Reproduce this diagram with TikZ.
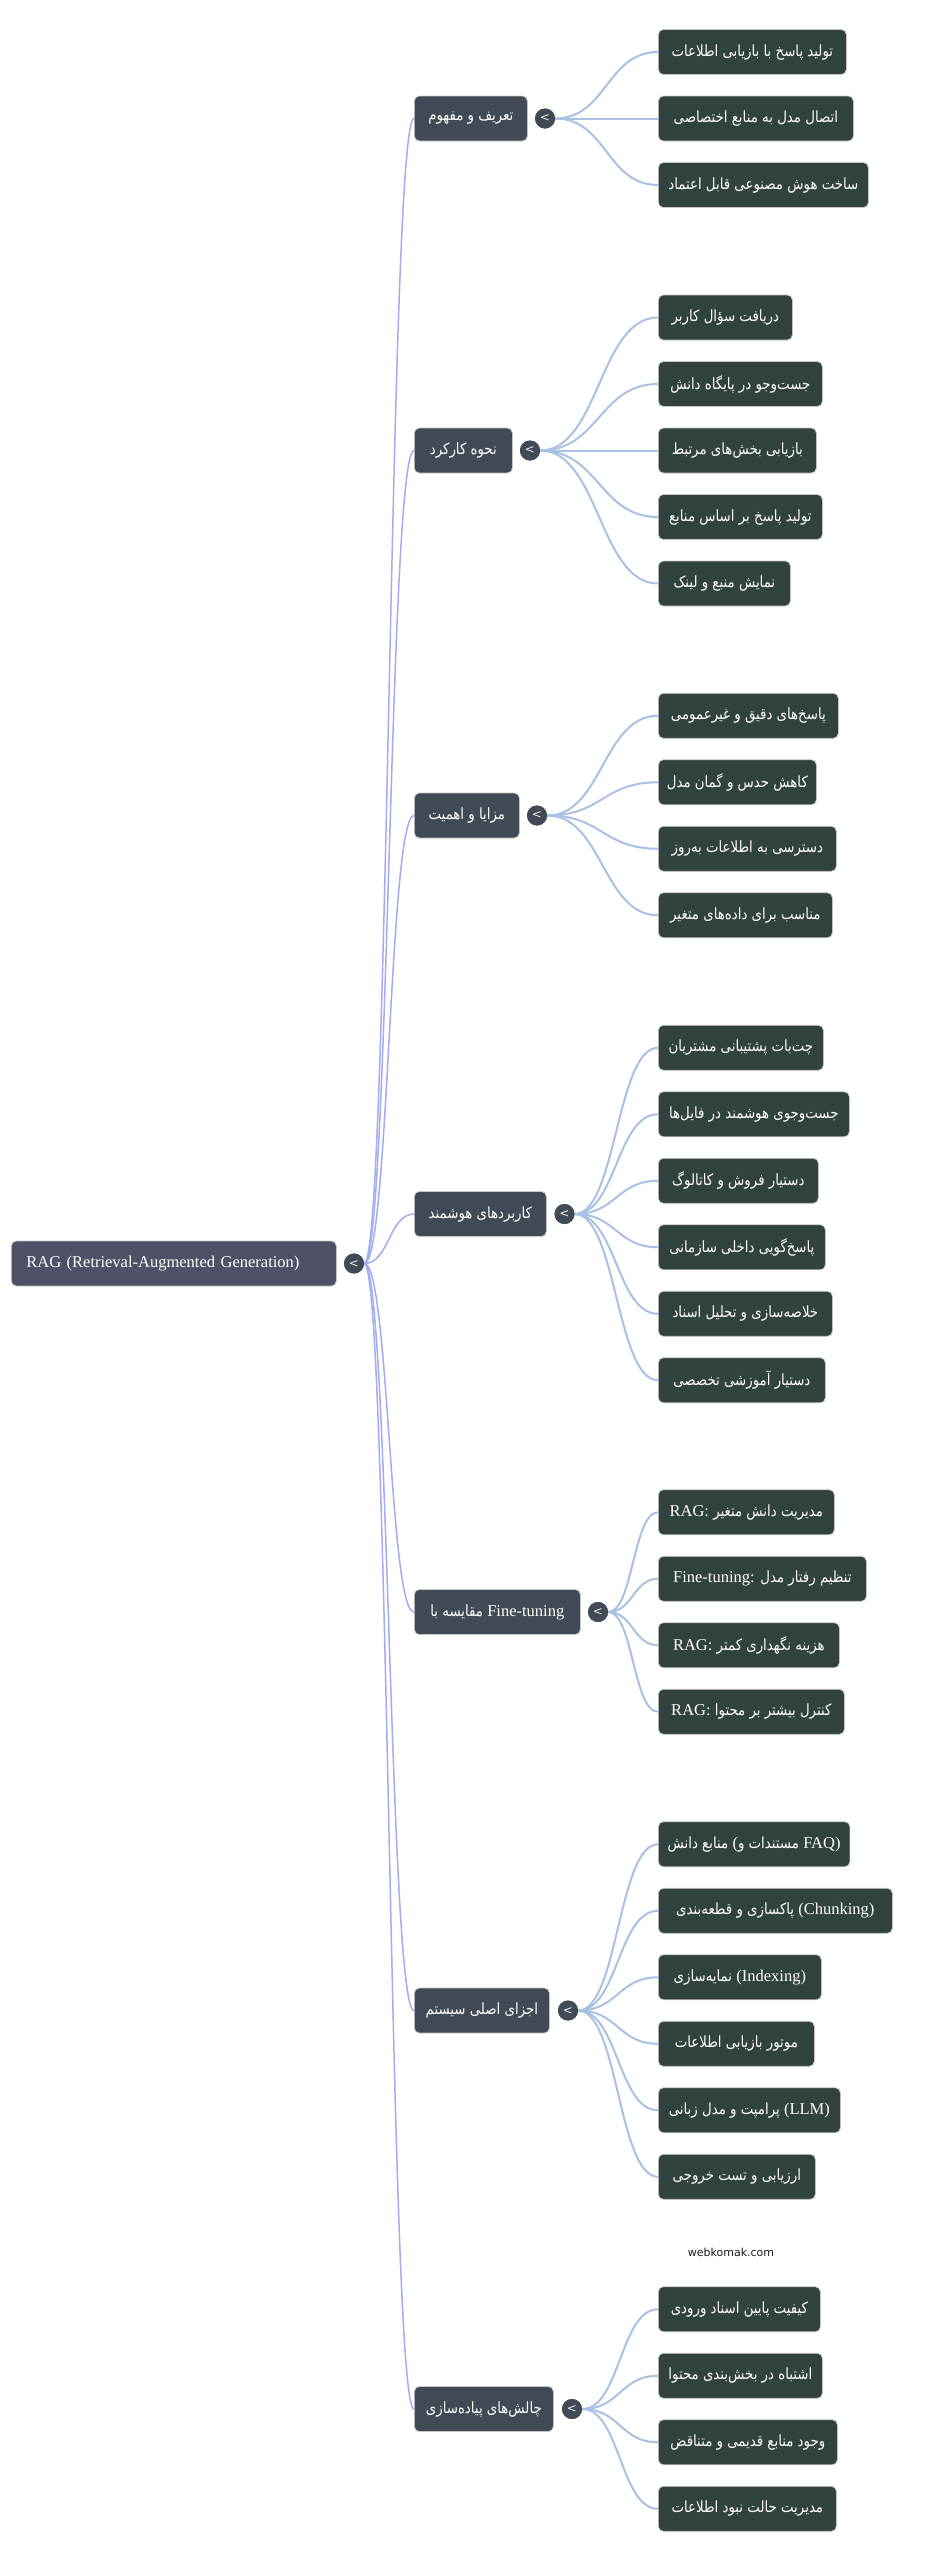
\documentclass[tikz,border=0pt]{standalone}
\usepackage{fontspec}
\setmainfont{Liberation Serif}
\newfontfamily\fa[Script=Arabic, FakeStretch=0.86]{DejaVu Sans}
\newfontfamily\serifl{Liberation Serif}
\newfontfamily\sansl{DejaVu Sans}
\TeXXeTstate=1
\usetikzlibrary{calc}
\definecolor{rootc}{HTML}{4F5166}
\definecolor{catc}{HTML}{424A55}
\definecolor{leafc}{HTML}{32423E}
\definecolor{rootlinkc}{HTML}{A3ABF3}
\definecolor{leaflinkc}{HTML}{A9C1E2}
\newcommand\rtl[1]{\beginR#1\endR}
\newcommand\entext[1]{{\serifl\fontsize{16.5}{18}\selectfont #1}}
\newcommand\lnk[3]{\draw[#1] (#2) .. controls ($(#2)!0.5!(#2 -| #3.west)$) and ($(#3.west)!0.5!(#2 |- #3.west)$) .. (#3.west);}
\tikzset{
  boxbase/.style={rounded corners=5pt, text=white, minimum height=45pt, anchor=west, inner xsep=0pt, inner ysep=0pt, draw=gray!45, line width=0.7pt},
  rootbox/.style={boxbase, fill=rootc, align=left, text width=295pt, inner xsep=15pt, font=\serifl\fontsize{16.5}{18}\selectfont},
  catbox/.style={boxbase, fill=catc, font=\fa\fontsize{15.5}{18}\selectfont},
  leafbox/.style={boxbase, fill=leafc, font=\fa\fontsize{15.5}{18}\selectfont},
  toggle/.style={circle, fill=catc, minimum size=20pt, inner sep=0pt, text=white!85!gray, font=\sansl\fontsize{12}{12}\selectfont},
  rootlink/.style={draw=rootlinkc, line width=1.5pt},
  leaflink/.style={draw=leaflinkc, line width=2pt},
  wm/.style={text=black!90, font=\sansl\fontsize{11}{13}\selectfont}
}
\begin{document}
\begin{tikzpicture}[x=1pt,y=-1pt]
\useasboundingbox (0,0) rectangle (931,2560);
\fill[white] (0,0) rectangle (931,2560);

% root
\node[rootbox] (root) at (11,1263.5) {RAG (Retrieval-Augmented Generation)};
\node[toggle] (troot) at (354,1263.5) {<};

% categories
\node[catbox, minimum width=113pt] (cA) at (414,118.5) {\rtl{تعریف و مفهوم}};
\node[toggle] (tA) at (545,118.5) {<};
\node[catbox, minimum width=98pt] (cB) at (414,450.5) {\rtl{نحوه کارکرد}};
\node[toggle] (tB) at (530,450.5) {<};
\node[catbox, minimum width=105pt] (cC) at (414,815.5) {\rtl{مزایا و اهمیت}};
\node[toggle] (tC) at (537,815.5) {<};
\node[catbox, minimum width=132pt] (cD) at (414,1214) {\rtl{کاربردهای هوشمند}};
\node[toggle] (tD) at (564.5,1214) {<};
\node[catbox, minimum width=166pt] (cE) at (414,1612) {\rtl{مقایسه با} \entext{Fine-tuning}};
\node[toggle] (tE) at (598,1612) {<};
\node[catbox, minimum width=135pt] (cF) at (414,2010.5) {\rtl{اجزای اصلی سیستم}};
\node[toggle] (tF) at (568,2010.5) {<};
\node[catbox, minimum width=139pt] (cG) at (414,2409) {\rtl{چالش‌های پیاده‌سازی}};
\node[toggle] (tG) at (572,2409) {<};

% leaves A
\node[leafbox, minimum width=188pt] (a1) at (658,52) {\rtl{تولید پاسخ با بازیابی اطلاعات}};
\node[leafbox, minimum width=195pt] (a2) at (658,118.5) {\rtl{اتصال مدل به منابع اختصاصی}};
\node[leafbox, minimum width=210pt] (a3) at (658,185) {\rtl{ساخت هوش مصنوعی قابل اعتماد}};
% leaves B
\node[leafbox, minimum width=134pt] (b1) at (658,317.5) {\rtl{دریافت سؤال کاربر}};
\node[leafbox, minimum width=164pt] (b2) at (658,384) {\rtl{جست‌وجو در پایگاه دانش}};
\node[leafbox, minimum width=158pt] (b3) at (658,450.5) {\rtl{بازیابی بخش‌های مرتبط}};
\node[leafbox, minimum width=164pt] (b4) at (658,517) {\rtl{تولید پاسخ بر اساس منابع}};
\node[leafbox, minimum width=132pt] (b5) at (658,583.5) {\rtl{نمایش منبع و لینک}};
% leaves C
\node[leafbox, minimum width=180pt] (c1) at (658,715.75) {\rtl{پاسخ‌های دقیق و غیرعمومی}};
\node[leafbox, minimum width=158pt] (c2) at (658,782.25) {\rtl{کاهش حدس و گمان مدل}};
\node[leafbox, minimum width=178pt] (c3) at (658,848.75) {\rtl{دسترسی به اطلاعات به‌روز}};
\node[leafbox, minimum width=174pt] (c4) at (658,915.25) {\rtl{مناسب برای داده‌های متغیر}};
% leaves D
\node[leafbox, minimum width=165pt] (d1) at (658,1047.75) {\rtl{چت‌بات پشتیبانی مشتریان}};
\node[leafbox, minimum width=191pt] (d2) at (658,1114.25) {\rtl{جست‌وجوی هوشمند در فایل‌ها}};
\node[leafbox, minimum width=160pt] (d3) at (658,1180.75) {\rtl{دستیار فروش و کاتالوگ}};
\node[leafbox, minimum width=167pt] (d4) at (658,1247.25) {\rtl{پاسخ‌گویی داخلی سازمانی}};
\node[leafbox, minimum width=174pt] (d5) at (658,1313.75) {\rtl{خلاصه‌سازی و تحلیل اسناد}};
\node[leafbox, minimum width=167pt] (d6) at (658,1380.25) {\rtl{دستیار آموزشی تخصصی}};
% leaves E
\node[leafbox, minimum width=176pt] (e1) at (658,1512.25) {\entext{RAG:} \rtl{مدیریت دانش متغیر}};
\node[leafbox, minimum width=208pt] (e2) at (658,1578.75) {\entext{Fine-tuning:} \rtl{تنظیم رفتار مدل}};
\node[leafbox, minimum width=181pt] (e3) at (658,1645.25) {\entext{RAG:} \rtl{هزینه نگهداری کمتر}};
\node[leafbox, minimum width=186pt] (e4) at (658,1711.75) {\entext{RAG:} \rtl{کنترل بیشتر بر محتوا}};
% leaves F
\node[leafbox, minimum width=191.5pt] (f1) at (658,1844.25) {\rtl{منابع دانش} \entext{(}\rtl{مستندات و} \entext{FAQ)}};
\node[leafbox, minimum width=234pt] (f2) at (658,1910.75) {\rtl{پاکسازی و قطعه‌بندی} \entext{(Chunking)}};
\node[leafbox, minimum width=163pt] (f3) at (658,1977.25) {\rtl{نمایه‌سازی} \entext{(Indexing)}};
\node[leafbox, minimum width=156pt] (f4) at (658,2043.75) {\rtl{موتور بازیابی اطلاعات}};
\node[leafbox, minimum width=182pt] (f5) at (658,2110.25) {\rtl{پرامپت و مدل زبانی} \entext{(LLM)}};
\node[leafbox, minimum width=157pt] (f6) at (658,2176.75) {\rtl{ارزیابی و تست خروجی}};
% leaves G
\node[leafbox, minimum width=162pt] (g1) at (658,2309.25) {\rtl{کیفیت پایین اسناد ورودی}};
\node[leafbox, minimum width=164pt] (g2) at (658,2375.75) {\rtl{اشتباه در بخش‌بندی محتوا}};
\node[leafbox, minimum width=179pt] (g3) at (658,2442.25) {\rtl{وجود منابع قدیمی و متناقض}};
\node[leafbox, minimum width=178pt] (g4) at (658,2508.75) {\rtl{مدیریت حالت نبود اطلاعات}};

\node[wm] (wmk) at (731,2252) {webkomak.com};

% links
\foreach \c in {cA,cB,cC,cD,cE,cF,cG}{\lnk{rootlink}{troot.east}{\c}}
\foreach \l in {a1,a2,a3}{\lnk{leaflink}{tA.east}{\l}}
\foreach \l in {b1,b2,b3,b4,b5}{\lnk{leaflink}{tB.east}{\l}}
\foreach \l in {c1,c2,c3,c4}{\lnk{leaflink}{tC.east}{\l}}
\foreach \l in {d1,d2,d3,d4,d5,d6}{\lnk{leaflink}{tD.east}{\l}}
\foreach \l in {e1,e2,e3,e4}{\lnk{leaflink}{tE.east}{\l}}
\foreach \l in {f1,f2,f3,f4,f5,f6}{\lnk{leaflink}{tF.east}{\l}}
\foreach \l in {g1,g2,g3,g4}{\lnk{leaflink}{tG.east}{\l}}
% redraw toggles on top
\foreach \t in {troot,tA,tB,tC,tD,tE,tF,tG}{\node[toggle] at (\t) {<};}
\end{tikzpicture}
\end{document}
